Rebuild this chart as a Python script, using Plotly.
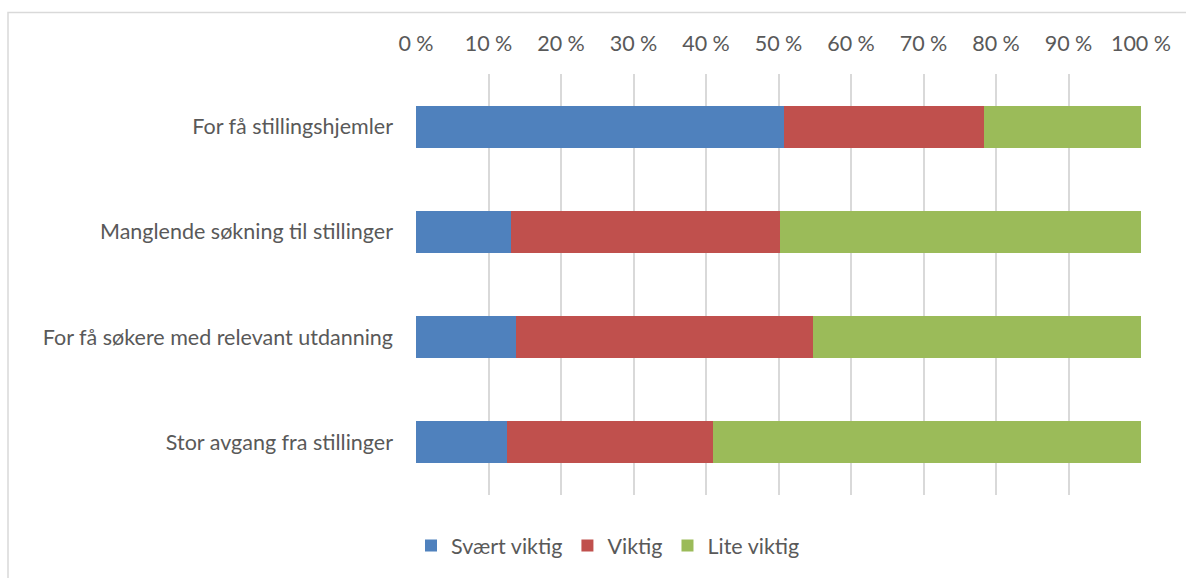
import plotly.graph_objects as go

categories = ["For få stillingshjemler", "Manglende søkning til stillinger",
              "For få søkere med relevant utdanning", "Stor avgang fra stillinger"]
svaert_viktig = [50.8, 13.1, 13.8, 12.6]
viktig = [27.5, 37.1, 40.9, 28.4]
lite_viktig = [21.7, 49.8, 45.3, 59.0]
series_names = ["Svært viktig", "Viktig", "Lite viktig"]
colors = ["#4F81BD", "#C0504D", "#9BBB59"]
tick_vals = [0, 10, 20, 30, 40, 50, 60, 70, 80, 90, 100]
tick_text = [f"{v} %" for v in tick_vals]

FONT = "Lato, Carlito, 'Open Sans', sans-serif"
FS = 21.5

fig = go.Figure()
for name, vals, col in zip(series_names, [svaert_viktig, viktig, lite_viktig], colors):
    fig.add_trace(go.Bar(
        y=categories, x=vals, name=name, orientation="h",
        marker=dict(color=col, line=dict(width=0)),
    ))

W, H = 1186, 578
l, r, t, b = 416, 45, 74, 80
pw, ph = W - l - r, H - t - b

fig.update_layout(
    width=W, height=H,
    barmode="stack", bargap=0.6,
    margin=dict(l=l, r=r, t=t, b=b),
    paper_bgcolor="white", plot_bgcolor="white",
    font=dict(family=FONT, size=FS, color="#595959"),
    showlegend=True,
    legend=dict(orientation="h", x=(608 - l) / pw, xanchor="center",
                y=(H - b - 549) / ph, yanchor="middle",
                font=dict(size=FS, color="#595959"), traceorder="normal",
                itemwidth=30),
    xaxis=dict(range=[0, 100], side="top", tickvals=tick_vals, ticktext=tick_text,
               showgrid=True, gridcolor="#D9D9D9", gridwidth=1.5,
               zeroline=False, showline=False, ticks="", ticklen=0,
               ticklabelstandoff=18,
               tickfont=dict(size=FS, color="#595959")),
    yaxis=dict(autorange="reversed", showgrid=False, showline=False, ticks="",
               ticklabelstandoff=22,
               tickfont=dict(size=FS, color="#595959")),
    shapes=[dict(type="rect", xref="paper", yref="paper",
                 x0=(8 - l) / pw, x1=(1195 - l) / pw,
                 y0=(H - b - 590) / ph, y1=(H - b - 12) / ph,
                 line=dict(color="#D9D9D9", width=1.5), layer="below")],
)

fig.write_html("out.html", config={"displayModeBar": False},
               post_script="document.body.style.margin='0';document.body.style.overflow='hidden';")
